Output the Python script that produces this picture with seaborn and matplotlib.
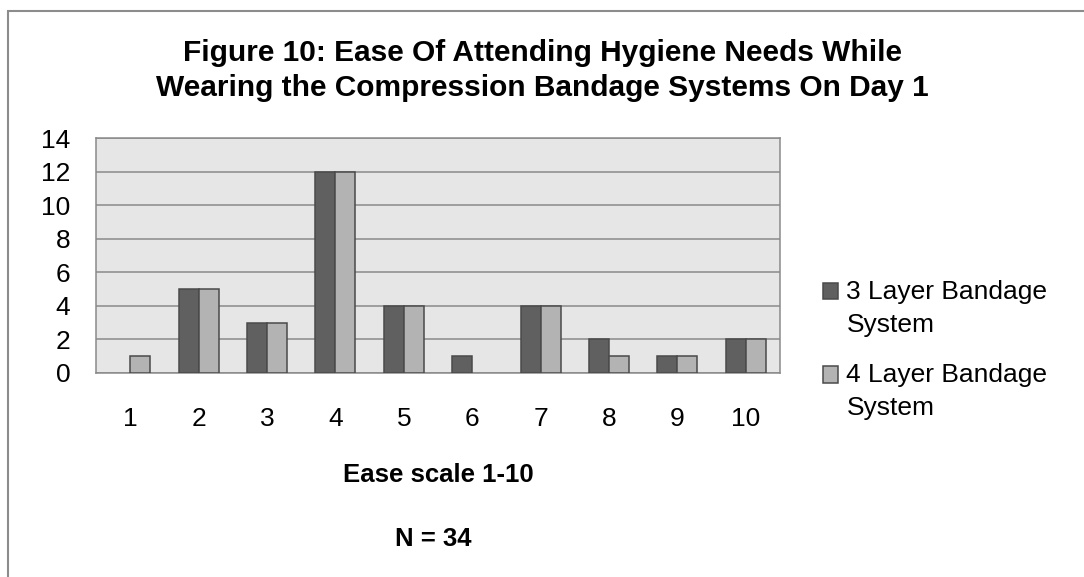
import matplotlib
matplotlib.use("Agg")
import matplotlib.pyplot as plt
from matplotlib.patches import Rectangle
from matplotlib.legend_handler import HandlerPatch
import pandas as pd
import seaborn as sns

# Survey responses: number of patients giving each ease score
scores = ["1", "2", "3", "4", "5", "6", "7", "8", "9", "10"]
three_layer = [0, 5, 3, 12, 4, 1, 4, 2, 1, 2]
four_layer = [1, 5, 3, 12, 4, 0, 4, 1, 1, 2]
series_names = ["3 Layer Bandage\nSystem", "4 Layer Bandage\nSystem"]
y_ticks = [0, 2, 4, 6, 8, 10, 12, 14]

df = pd.DataFrame({
    "score": scores * 2,
    "count": three_layer + four_layer,
    "system": [series_names[0]] * len(scores) + [series_names[1]] * len(scores),
})

sns.set_theme(style="white")
plt.rcParams["font.family"] = ["Liberation Sans", "DejaVu Sans"]
plt.rcParams["text.color"] = "black"
plt.rcParams["axes.labelcolor"] = "black"

fig = plt.figure(figsize=(10.84, 5.77), dpi=100)
ax = fig.add_axes([0.0886, 0.3536, 0.6310, 0.4072])

palette = {series_names[0]: "#606060", series_names[1]: "#b3b3b3"}
sns.barplot(data=df, x="score", y="count", hue="system", order=scores,
            hue_order=series_names, palette=palette, width=0.585, gap=0,
            edgecolor="#4a4a4a", linewidth=1.1, saturation=1, ax=ax, zorder=3)

# empty bars leave no outline on the baseline
for container in ax.containers:
    for bar in container:
        if bar.get_height() == 0:
            bar.set_linewidth(0)

ax.set_facecolor("#e6e6e6")
ax.set_ylim(0, 14)
ax.set_xlim(-0.5, 9.5)
ax.set_yticks(y_ticks)
ax.grid(axis="y", color="#8a8a8a", linewidth=1.1, zorder=0)
ax.set_axisbelow(True)
for side in ["left", "right", "top", "bottom"]:
    ax.spines[side].set_visible(True)
    ax.spines[side].set_color("#8a8a8a")
    ax.spines[side].set_linewidth(1.1)
ax.tick_params(axis="both", length=0, labelsize=19, colors="black")
ax.tick_params(axis="y", pad=18.5)
ax.tick_params(axis="x", pad=24.5)
ax.set_ylabel("")
ax.set_xlabel("Ease scale 1-10", fontsize=18.5, fontweight="bold",
              labelpad=23, color="black")


def square_marker(legend, orig_handle, xdescent, ydescent, width, height, fontsize):
    # lift the swatch so it sits beside the first line of a two-line label
    return Rectangle((-xdescent, -ydescent + 0.66 * fontsize), width, height)


handles, labels = ax.get_legend_handles_labels()
if ax.legend_:
    ax.legend_.remove()
leg = fig.legend(handles, labels, loc="upper left", bbox_to_anchor=(0.7594, 0.5145),
                 frameon=False, fontsize=19, handlelength=0.58, handleheight=0.58,
                 handletextpad=0.3, labelspacing=1.0, borderpad=0, borderaxespad=0,
                 handler_map={h: HandlerPatch(patch_func=square_marker) for h in handles})
for t in leg.get_texts():
    t.set_linespacing(1.46)
    t.set_color("black")
for h in leg.legend_handles:
    h.set_edgecolor("#4a4a4a")
    h.set_linewidth(1.1)

fig.text(0.5005, 1 - 70.5 / 577,
         "Figure 10: Ease Of Attending Hygiene Needs While\n"
         "Wearing the Compression Bandage Systems On Day 1",
         ha="center", va="center", fontsize=21.5, fontweight="bold",
         linespacing=1.28, color="black")
fig.text(433.5 / 1084, 1 - 539.5 / 577, "N = 34", ha="center", va="center",
         fontsize=18.5, fontweight="bold", color="black")

# outer chart frame
fig.patches.append(Rectangle((8 / 1084, -0.1), 1.2, 1 - 10.5 / 577 + 0.1,
                             transform=fig.transFigure, fill=False,
                             edgecolor="#8c8c8c", linewidth=1.5))

fig.savefig("out.png", dpi=100)
